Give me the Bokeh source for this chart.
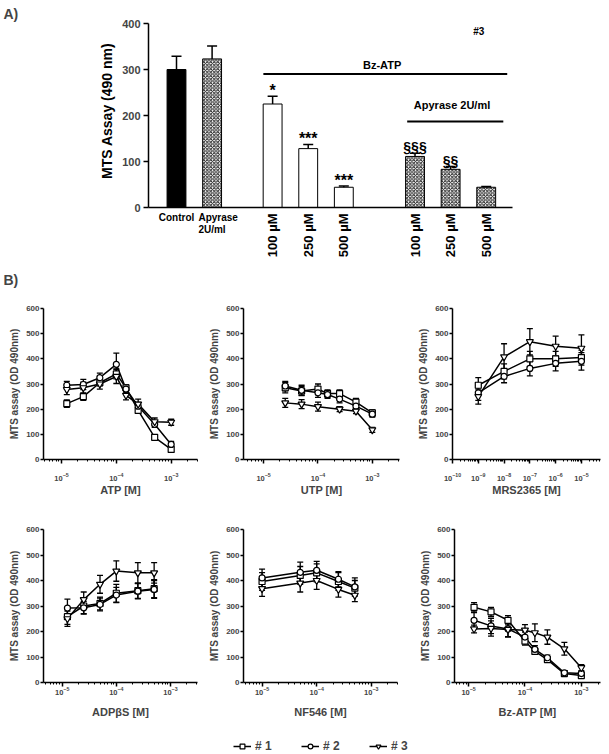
import math
from bokeh.plotting import figure
from bokeh.models import (ColumnDataSource, Range1d, LabelSet, Whisker, LinearAxis,
                          TeeHead, FixedTicker, Legend, LegendItem)
from bokeh.layouts import column, row
from bokeh.embed import file_html
from bokeh.resources import INLINE
from bokeh.core.properties import value, field

FONT = "Liberation Sans"

# ---------------- Panel A data ----------------
a_groups = ["ctrl", "ctrl", "bz", "bz", "bz", "apy", "apy", "apy"]
a_labels = ["Control", "Apyrase", "100 µM", "250 µM", "500 µM", "100 µM", "250 µM", "500 µM"]
a_sublabels = ["", "2U/ml", "", "", "", "", "", ""]
a_values = [300, 323, 225, 128, 44, 111, 83, 44]
a_errors = [29, 28, 17, 9, 3, 7, 6, 1.5]
a_signif = ["", "", "*", "***", "***", "§§§", "§§", ""]
a_style = ["solid", "hatch", "open", "open", "open", "hatch", "hatch", "hatch"]
a_yticks = [0, 100, 200, 300, 400]
a_ylabel = "MTS Assay (490 nm)"
a_bz_text = "Bz-ATP"
a_apy_text = "Apyrase 2U/ml"
a_tag = "#3"
letters = ["A)", "B)"]

# ---------------- Panel B data ----------------
atp_x = [1.25e-5, 2.5e-5, 5e-5, 1e-4, 1.5e-4, 2.5e-4, 5e-4, 1e-3]
atp_1 = [222, 250, 305, 340, 285, 195, 88, 40]
atp_1e = [15, 15, 12, 20, 12, 12, 10, 10]
atp_2 = [295, 298, 325, 378, 280, 212, 140, 60]
atp_2e = [15, 20, 18, 45, 15, 15, 12, 12]
atp_3 = [278, 285, 300, 330, 255, 220, 150, 148]
atp_3e = [20, 22, 20, 28, 18, 20, 15, 12]

utp_x = [2.5e-5, 5e-5, 1e-4, 1.5e-4, 2.5e-4, 5e-4, 1e-3]
utp_1 = [285, 272, 280, 262, 262, 228, 185]
utp_1e = [20, 18, 20, 15, 15, 15, 12]
utp_2 = [292, 275, 265, 258, 240, 212, 180]
utp_2e = [18, 20, 18, 15, 15, 15, 12]
utp_3x = [2.5e-5, 5e-5, 1e-4, 2.5e-4, 5e-4, 1e-3]
utp_3 = [225, 220, 210, 200, 192, 118]
utp_3e = [18, 18, 18, 10, 10, 10]

mrs_x = [1e-9, 1e-8, 1e-7, 1e-6, 1e-5]
mrs_1 = [295, 350, 400, 400, 405]
mrs_1e = [30, 30, 30, 30, 30]
mrs_2 = [265, 330, 362, 382, 390]
mrs_2e = [30, 25, 30, 30, 35]
mrs_3 = [250, 408, 468, 450, 442]
mrs_3e = [30, 52, 52, 40, 53]

adp_x = [1.25e-5, 2.5e-5, 5e-5, 1e-4, 2.5e-4, 5e-4]
adp_1 = [258, 300, 310, 350, 360, 368]
adp_1e = [30, 30, 25, 35, 30, 35]
adp_2 = [292, 293, 306, 343, 358, 365]
adp_2e = [35, 25, 25, 30, 30, 35]
adp_3 = [250, 325, 385, 437, 430, 430]
adp_3e = [30, 30, 35, 40, 40, 40]

nf_x = [1e-5, 5e-5, 1e-4, 2.5e-4, 5e-4]
nf_1 = [396, 420, 430, 396, 370]
nf_1e = [35, 35, 35, 35, 30]
nf_2 = [410, 432, 440, 405, 375]
nf_2e = [35, 40, 35, 30, 35]
nf_3 = [368, 390, 400, 365, 342]
nf_3e = [30, 35, 35, 30, 25]

bz_x = [1.25e-5, 2.5e-5, 5e-5, 1e-4, 1.5e-4, 2.5e-4, 5e-4, 1e-3]
bz_1 = [295, 277, 244, 162, 122, 90, 35, 27]
bz_1e = [18, 18, 18, 15, 12, 10, 6, 6]
bz_2 = [244, 222, 210, 178, 130, 97, 38, 35]
bz_2e = [30, 30, 30, 20, 15, 10, 6, 8]
bz_3 = [210, 212, 208, 205, 195, 178, 132, 58]
bz_3e = [15, 30, 30, 22, 35, 28, 25, 12]

series_names = ["# 1", "# 2", "# 3"]
series_markers = ["square", "circle", "inverted_triangle"]
b_yticks = [0, 100, 200, 300, 400, 500, 600]
y_label_b = "MTS assay (OD 490nm)"

# ================= layout constants (page pixels) =================
TOTAL_W = 609
A_H = 302             # height of panel A strip
LW = 30               # width of the strip holding the panel letters
A_BORDER_L = 40       # room kept for the y axis of panel A
A_BORDER_B = 14
SLOT_PX = 35.6        # px between neighbouring bars
FIRST_BAR_PX = 176.0  # page x of first bar
ZERO_PX = 207.0       # page y of value 0
Y_PX = 0.46           # px per unit of the y scale
AXIS_LEFT_PX, AXIS_RIGHT_PX = 148.0, 512.0
YLABEL_PX = 107.0
GROUP_SHIFT = {"ctrl": 0.0, "bz": 0.7, "apy": 1.7}
LABEL_NUDGE = [0.0, 0.17, 0, 0, 0, 0, 0, 0]
BAR_W = 0.53


def px2x(px):
    return (px - FIRST_BAR_PX) / SLOT_PX


def dy(px):
    return px / Y_PX


frame_left_px = LW + A_BORDER_L
x_start, x_end = px2x(frame_left_px), px2x(TOTAL_W)
y_end = dy(ZERO_PX)
y_start = -dy(A_H - A_BORDER_B - ZERO_PX)

a_x = [i + GROUP_SHIFT[g] for i, g in enumerate(a_groups)]

# ---- letters strip ----
pletters = figure(width=LW, height=A_H, x_range=Range1d(0, LW), y_range=Range1d(0, A_H),
                  output_backend="svg", toolbar_location=None,
                  x_axis_location=None, y_axis_location=None,
                  min_border_left=0, min_border_right=0, min_border_top=0, min_border_bottom=0)
pletters.outline_line_color = None
pletters.grid.visible = False
let_src = ColumnDataSource(dict(x=[3, 3], y=[A_H - 6, A_H - 285], t=letters))
pletters.add_layout(LabelSet(x="x", y="y", text="t", source=let_src, text_align="left",
                             text_baseline="top", text_font=value(FONT),
                             text_font_size=value("14px"), text_font_style=value("bold")))

# ---- panel A ----
pa = figure(width=TOTAL_W - LW, height=A_H, x_range=Range1d(x_start, x_end),
            y_range=Range1d(y_start, y_end), output_backend="svg", toolbar_location=None,
            x_axis_location=None, y_axis_location=None,
            min_border_left=A_BORDER_L, min_border_right=0, min_border_top=0,
            min_border_bottom=A_BORDER_B)
pa.outline_line_color = None
pa.grid.visible = False

fills = {"solid": "black", "open": "white", "hatch": "white"}
for style in ["solid", "open", "hatch"]:
    idx = [i for i, s in enumerate(a_style) if s == style]
    src = ColumnDataSource(dict(x=[a_x[i] for i in idx], top=[a_values[i] for i in idx]))
    kw = {}
    if style == "hatch":
        kw = dict(hatch_pattern="diagonal_cross", hatch_scale=3.5, hatch_weight=1,
                  hatch_color="#222222")
    pa.vbar(x="x", top="top", width=BAR_W, source=src, fill_color=fills[style],
            line_color="black", line_width=1, **kw)

err_src = ColumnDataSource(dict(base=a_x, lower=a_values,
                                upper=[v + e for v, e in zip(a_values, a_errors)]))
pa.add_layout(Whisker(source=err_src, base="base", lower="lower", upper="upper",
                      dimension="height", line_width=1.5, line_color="black",
                      upper_head=TeeHead(size=10, line_width=1.5, line_color="black"),
                      lower_head=None, level="glyph"))

ax_y = LinearAxis(fixed_location=px2x(AXIS_LEFT_PX), bounds=(0, 400),
                  ticker=FixedTicker(ticks=a_yticks))
ax_y.major_label_text_font = FONT
ax_y.major_label_text_font_style = "bold"
ax_y.major_label_text_font_size = "11px"
ax_y.major_label_standoff = 3
ax_y.major_tick_in = 0
ax_y.major_tick_out = 5
ax_y.axis_line_width = 1.5
ax_y.major_tick_line_width = 1.5
pa.add_layout(ax_y, "left")
ax_x = LinearAxis(fixed_location=0, bounds=(px2x(AXIS_LEFT_PX), px2x(AXIS_RIGHT_PX)),
                  ticker=FixedTicker(ticks=[]))
ax_x.axis_line_width = 1.5
pa.add_layout(ax_x, "below")

ylab_src = ColumnDataSource(dict(x=[px2x(YLABEL_PX)], y=[210], t=[a_ylabel]))
pa.add_layout(LabelSet(x="x", y="y", text="t", source=ylab_src, angle=math.pi / 2,
                       text_align="center", text_baseline="middle", text_font=value(FONT),
                       text_font_size=value("14px"), text_font_style=value("bold"),
                       text_color="black"))

sig_idx = [i for i, s in enumerate(a_signif) if s]
sig_src = ColumnDataSource(dict(
    x=[a_x[i] for i in sig_idx],
    y=[a_values[i] + a_errors[i] - (dy(3) if "*" in a_signif[i] else dy(2)) for i in sig_idx],
    t=[a_signif[i] for i in sig_idx],
    size=["16px" if "*" in a_signif[i] else "14px" for i in sig_idx]))
pa.add_layout(LabelSet(x="x", y="y", text="t", source=sig_src, text_align="center",
                       text_baseline="bottom", text_font=value(FONT),
                       text_font_size=field("size"), text_font_style=value("bold"),
                       text_color="black"))

h_idx = [i for i, g in enumerate(a_groups) if g == "ctrl"]
r_idx = [i for i, g in enumerate(a_groups) if g != "ctrl"]
h_src = ColumnDataSource(dict(
    x=[a_x[i] + LABEL_NUDGE[i] for i in h_idx], y=[-dy(4)] * len(h_idx),
    t=[a_labels[i] + ("\n" + a_sublabels[i] if a_sublabels[i] else "") for i in h_idx]))
pa.add_layout(LabelSet(x="x", y="y", text="t", source=h_src, text_align="center",
                       text_baseline="top", text_font=value(FONT),
                       text_font_size=value("10px"), text_font_style=value("bold"),
                       text_line_height=1.15, text_color="black"))
r_src = ColumnDataSource(dict(
    x=[a_x[i] for i in r_idx], y=[-dy(6)] * len(r_idx),
    t=[a_labels[i] for i in r_idx]))
pa.add_layout(LabelSet(x="x", y="y", text="t", source=r_src, angle=math.pi / 2,
                       text_align="right", text_baseline="middle", text_font=value(FONT),
                       text_font_size=value("13px"), text_font_style=value("bold"),
                       text_color="black"))

bz_first = a_x[a_groups.index("bz")]
apy_first = a_x[a_groups.index("apy")]
last = a_x[-1]
br_x0 = [bz_first - 0.26, apy_first - 0.22]
br_x1 = [last + 0.59, last + 0.48]
br_y = [290, 187]
pa.segment(x0=br_x0, x1=br_x1, y0=br_y, y1=br_y, line_color="black", line_width=2)
br_src = ColumnDataSource(dict(
    x=[(br_x0[0] + br_x1[0]) / 2 - 0.09, (br_x0[1] + br_x1[1]) / 2 - 0.09, last - 0.21],
    y=[310, 222, 383],
    t=[a_bz_text, a_apy_text, a_tag],
    size=["11px", "11px", "10px"]))
pa.add_layout(LabelSet(x="x", y="y", text="t", source=br_src, text_align="center",
                       text_baseline="middle", text_font=value(FONT),
                       text_font_size=field("size"), text_font_style=value("bold"),
                       text_color="black"))


# ================= Panel B =================
def make_panel(series, xlabel, xlo, xhi, major_exp, w, h, bl, br, bt, bb,
               tick_standoff, label_standoff):
    p = figure(width=w, height=h, x_axis_type="log",
               x_range=Range1d(10 ** xlo, 10 ** xhi), y_range=Range1d(0, 600),
               output_backend="svg", toolbar_location=None,
               min_border_left=bl, min_border_right=br,
               min_border_top=bt, min_border_bottom=bb)
    p.outline_line_color = None
    p.grid.visible = False
    major = [10.0 ** k for k in major_exp]
    minor = []
    for k in range(math.floor(xlo), math.ceil(xhi) + 1):
        for m in range(2, 10):
            v = m * 10.0 ** k
            if 10 ** xlo <= v <= 10 ** xhi:
                minor.append(v)
    p.xaxis.ticker = FixedTicker(ticks=major, minor_ticks=minor)
    p.yaxis.ticker = FixedTicker(ticks=b_yticks)
    p.xaxis.axis_label = xlabel
    p.yaxis.axis_label = y_label_b
    for ax in [p.xaxis, p.yaxis]:
        ax.axis_label_text_font = FONT
        ax.axis_label_text_font_style = "bold"
        ax.major_label_text_font = FONT
        ax.major_label_text_font_style = "bold"
        ax.axis_line_width = 1.5
        ax.major_tick_line_width = 1.5
        ax.major_tick_in = 0
    p.xaxis.axis_label_text_font_size = "11px"
    p.yaxis.axis_label_text_font_size = "10px"
    p.xaxis.major_label_text_font_size = "7.5px"
    p.yaxis.major_label_text_font_size = "8px"
    p.xaxis.major_tick_out = 4
    p.yaxis.major_tick_out = 3
    p.xaxis.minor_tick_out = 2
    p.xaxis.minor_tick_in = 0
    p.xaxis.minor_tick_line_width = 1
    p.yaxis.minor_tick_line_color = None
    p.yaxis.major_label_standoff = 1
    p.yaxis.axis_label_standoff = 3
    p.xaxis.major_label_standoff = tick_standoff
    p.xaxis.axis_label_standoff = label_standoff

    srcs = []
    for xs, ys, es in series:
        src = ColumnDataSource(dict(x=xs, y=ys,
                                    lo=[y - e for y, e in zip(ys, es)],
                                    hi=[y + e for y, e in zip(ys, es)]))
        srcs.append(src)
        p.add_layout(Whisker(source=src, base="x", lower="lo", upper="hi",
                             dimension="height", line_width=1.3, line_color="black",
                             upper_head=TeeHead(size=6, line_width=1.3, line_color="black"),
                             lower_head=TeeHead(size=6, line_width=1.3, line_color="black")))
    for src in srcs:
        p.line(x="x", y="y", source=src, line_color="black", line_width=1.5)
    for src, mk in zip(srcs, series_markers):
        p.scatter(x="x", y="y", source=src, marker=mk,
                  size=7 if mk == "inverted_triangle" else 6,
                  fill_color="white", line_color="black", line_width=1.2)
    return p


R1_H, R1_T, R1_B = 201, 6, 44
R2_H, R2_T, R2_B = 224, 26, 45
R1 = dict(tick_standoff=9, label_standoff=0)
R2 = dict(tick_standoff=0, label_standoff=8)

b1 = make_panel([(atp_x, atp_1, atp_1e), (atp_x, atp_2, atp_2e), (atp_x, atp_3, atp_3e)],
                "ATP [M]", -5.328, -2.52, [-5, -4, -3], 200, R1_H, 43, 3, R1_T, R1_B, **R1)
b2 = make_panel([(utp_x, utp_1, utp_1e), (utp_x, utp_2, utp_2e), (utp_3x, utp_3, utp_3e)],
                "UTP [M]", -5.37, -2.50, [-5, -4, -3], 205, R1_H, 43, 6, R1_T, R1_B, **R1)
b3 = make_panel([(mrs_x, mrs_1, mrs_1e), (mrs_x, mrs_2, mrs_2e), (mrs_x, mrs_3, mrs_3e)],
                "MRS2365 [M]", -10.0, -4.26, [-10, -9, -8, -7, -6, -5], 204, R1_H, 47, 9,
                R1_T, R1_B, **R1)
b4 = make_panel([(adp_x, adp_1, adp_1e), (adp_x, adp_2, adp_2e), (adp_x, adp_3, adp_3e)],
                "ADPβS [M]", -5.345, -2.50, [-5, -4, -3], 200, R2_H, 43, 3, R2_T, R2_B, **R2)
b5 = make_panel([(nf_x, nf_1, nf_1e), (nf_x, nf_2, nf_2e), (nf_x, nf_3, nf_3e)],
                "NF546 [M]", -5.34, -2.52, [-5, -4, -3], 205, R2_H, 43, 8, R2_T, R2_B, **R2)
b6 = make_panel([(bz_x, bz_1, bz_1e), (bz_x, bz_2, bz_2e), (bz_x, bz_3, bz_3e)],
                "Bz-ATP [M]", -5.25, -2.66, [-5, -4, -3], 204, R2_H, 49, 9, R2_T, R2_B, **R2)

# ================= Legend =================
L_H = 754 - A_H - R1_H - R2_H
pl = figure(width=TOTAL_W, height=L_H, x_range=Range1d(0, 1), y_range=Range1d(0, 1),
            output_backend="svg", toolbar_location=None,
            x_axis_location=None, y_axis_location=None,
            min_border_left=35, min_border_right=0, min_border_top=0, min_border_bottom=0)
pl.outline_line_color = None
pl.grid.visible = False
items = []
for name, mk in zip(series_names, series_markers):
    # legend keys only: their points lie outside the visible range
    r1 = pl.line(x=[2, 3], y=[2, 2], line_color="black", line_width=1.5)
    r2 = pl.scatter(x=[2], y=[2], marker=mk, size=9 if mk == "inverted_triangle" else 8,
                    fill_color="white", line_color="black", line_width=1.2)
    items.append(LegendItem(label=name, renderers=[r1, r2]))
leg = Legend(items=items, orientation="horizontal", location="bottom_center",
             border_line_color=None, background_fill_alpha=0,
             label_text_font=FONT, label_text_font_style="bold", label_text_font_size="12px",
             glyph_width=18, glyph_height=12, label_height=12, label_standoff=4,
             spacing=26, padding=0, margin=1)
pl.add_layout(leg, "center")

layout = column(row(pletters, pa), row(b1, b2, b3), row(b4, b5, b6), pl)
open("out.html", "w").write(file_html(layout, INLINE))
